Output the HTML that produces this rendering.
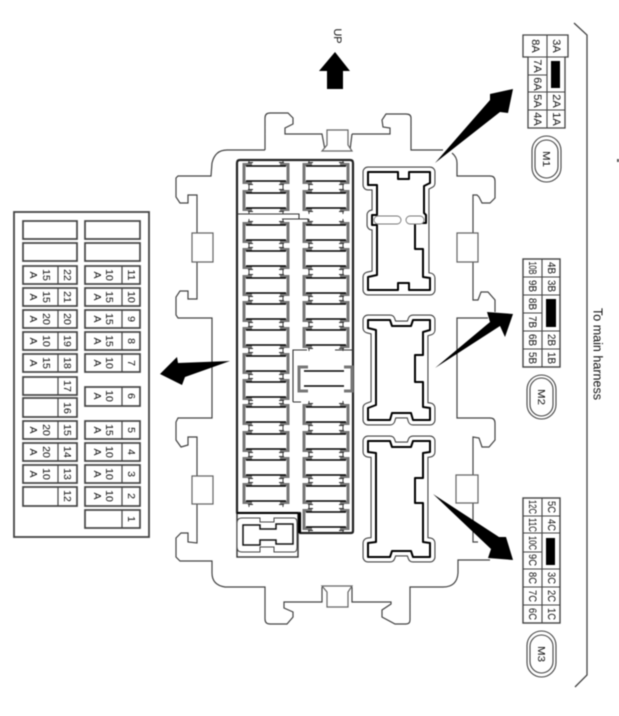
<!DOCTYPE html>
<html>
<head>
<meta charset="utf-8">
<style>
html,body{margin:0;padding:0;background:#fff;width:619px;height:716px;overflow:hidden}
svg{display:block;filter:blur(0.45px)}
text{font-family:"Liberation Sans",Arial,sans-serif;fill:#111;text-anchor:middle;dominant-baseline:central}
.l{font-size:10.5px}
.t{font-size:11px}
.c{fill:#fff;stroke:#444;stroke-width:1.7}
</style>
</head>
<body>
<svg width="619" height="716" viewBox="0 0 619 716" xmlns="http://www.w3.org/2000/svg">
<defs>
<symbol id="f" width="50" height="26" viewBox="0 -3 50 26" overflow="visible">
<path d="M10,1.5H2V19.5H10M38,1.5H46V19.5H38" fill="none" stroke="#777" stroke-width="3"/>
<rect x="4" y="3" width="40" height="15" fill="#fff"/>
<path d="M4,3H44M4,18H44" stroke="#000" stroke-width="1.4" fill="none"/>
<path d="M6,-0.5H11M6,21.5H11M37,-0.5H42M37,21.5H42M7,-3V0M7,21V24M41,-3V0M41,21V24" fill="none" stroke="#333" stroke-width="0.9"/>
</symbol>
</defs>

<!-- left legend panel -->
<rect x="14" y="212" width="135" height="325" fill="#fff" stroke="#444" stroke-width="1.8"/>
<g class="c">
<rect class="c" x="23" y="221" width="54" height="18"/><rect class="c" x="85" y="221" width="55" height="18"/>
<rect class="c" x="23" y="243" width="54" height="18"/><rect class="c" x="85" y="243" width="55" height="18"/>
<rect class="c" x="23" y="266" width="54" height="18"/><rect class="c" x="85" y="266" width="55" height="18"/>
<rect class="c" x="23" y="288" width="54" height="18"/><rect class="c" x="85" y="288" width="55" height="18"/>
<rect class="c" x="23" y="310" width="54" height="18"/><rect class="c" x="85" y="310" width="55" height="18"/>
<rect class="c" x="23" y="332" width="54" height="18"/><rect class="c" x="85" y="332" width="55" height="18"/>
<rect class="c" x="23" y="354" width="54" height="18"/><rect class="c" x="85" y="354" width="55" height="18"/>
<rect class="c" x="23" y="377" width="54" height="18"/><rect class="c" x="85" y="387" width="55" height="19"/>
<rect class="c" x="23" y="398" width="54" height="19"/>
<rect class="c" x="23" y="421" width="54" height="18"/><rect class="c" x="85" y="421" width="55" height="18"/>
<rect class="c" x="23" y="443" width="54" height="18"/><rect class="c" x="85" y="443" width="55" height="18"/>
<rect class="c" x="23" y="465" width="54" height="18"/><rect class="c" x="85" y="465" width="55" height="18"/>
<rect class="c" x="23" y="487" width="54" height="19"/><rect class="c" x="85" y="487" width="55" height="19"/>
<rect class="c" x="85" y="510" width="55" height="18"/>
</g>
<path d="M58,266V284M58,288V306M58,310V328M58,332V350M58,354V372M58,377V395M58,398V417M58,421V439M58,443V461M58,465V483M58,487V506M122,266V284M122,288V306M122,310V328M122,332V350M122,354V372M122,387V406M122,421V439M122,443V461M122,465V483M122,487V506M122,510V528" stroke="#444" stroke-width="1.2" fill="none"/>

<g class="l">
<text transform="rotate(90 67 275)" x="67" y="275">22</text>
<text transform="rotate(90 67 297)" x="67" y="297">21</text>
<text transform="rotate(90 67 319)" x="67" y="319">20</text>
<text transform="rotate(90 67 341)" x="67" y="341">19</text>
<text transform="rotate(90 67 363)" x="67" y="363">18</text>
<text transform="rotate(90 67 386)" x="67" y="386">17</text>
<text transform="rotate(90 67 408)" x="67" y="408">16</text>
<text transform="rotate(90 67 430)" x="67" y="430">15</text>
<text transform="rotate(90 67 452)" x="67" y="452">14</text>
<text transform="rotate(90 67 474)" x="67" y="474">13</text>
<text transform="rotate(90 67 496)" x="67" y="496">12</text>
<text transform="rotate(90 131 275)" x="131" y="275">11</text>
<text transform="rotate(90 131 297)" x="131" y="297">10</text>
<text transform="rotate(90 131 319)" x="131" y="319">9</text>
<text transform="rotate(90 131 341)" x="131" y="341">8</text>
<text transform="rotate(90 131 363)" x="131" y="363">7</text>
<text transform="rotate(90 131 396)" x="131" y="396">6</text>
<text transform="rotate(90 131 430)" x="131" y="430">5</text>
<text transform="rotate(90 131 452)" x="131" y="452">4</text>
<text transform="rotate(90 131 474)" x="131" y="474">3</text>
<text transform="rotate(90 131 496)" x="131" y="496">2</text>
<text transform="rotate(90 131 519)" x="131" y="519">1</text>

<text transform="rotate(90 46 275)" x="46" y="275">15</text><text transform="rotate(90 33 275)" x="33" y="275">A</text>
<text transform="rotate(90 46 297)" x="46" y="297">15</text><text transform="rotate(90 33 297)" x="33" y="297">A</text>
<text transform="rotate(90 46 319)" x="46" y="319">20</text><text transform="rotate(90 33 319)" x="33" y="319">A</text>
<text transform="rotate(90 46 341)" x="46" y="341">10</text><text transform="rotate(90 33 341)" x="33" y="341">A</text>
<text transform="rotate(90 46 363)" x="46" y="363">15</text><text transform="rotate(90 33 363)" x="33" y="363">A</text>
<text transform="rotate(90 46 430)" x="46" y="430">20</text><text transform="rotate(90 33 430)" x="33" y="430">A</text>
<text transform="rotate(90 46 452)" x="46" y="452">20</text><text transform="rotate(90 33 452)" x="33" y="452">A</text>
<text transform="rotate(90 46 474)" x="46" y="474">10</text><text transform="rotate(90 33 474)" x="33" y="474">A</text>

<text transform="rotate(90 109 275)" x="109" y="275">10</text><text transform="rotate(90 97 275)" x="97" y="275">A</text>
<text transform="rotate(90 109 297)" x="109" y="297">15</text><text transform="rotate(90 97 297)" x="97" y="297">A</text>
<text transform="rotate(90 109 319)" x="109" y="319">15</text><text transform="rotate(90 97 319)" x="97" y="319">A</text>
<text transform="rotate(90 109 341)" x="109" y="341">15</text><text transform="rotate(90 97 341)" x="97" y="341">A</text>
<text transform="rotate(90 109 363)" x="109" y="363">10</text><text transform="rotate(90 97 363)" x="97" y="363">A</text>
<text transform="rotate(90 109 396)" x="109" y="396">10</text><text transform="rotate(90 97 396)" x="97" y="396">A</text>
<text transform="rotate(90 109 430)" x="109" y="430">15</text><text transform="rotate(90 97 430)" x="97" y="430">A</text>
<text transform="rotate(90 109 452)" x="109" y="452">10</text><text transform="rotate(90 97 452)" x="97" y="452">A</text>
<text transform="rotate(90 109 474)" x="109" y="474">10</text><text transform="rotate(90 97 474)" x="97" y="474">A</text>
<text transform="rotate(90 109 496)" x="109" y="496">10</text><text transform="rotate(90 97 496)" x="97" y="496">A</text>
</g>

<!-- housing outline -->
<path fill="none" stroke="#444" stroke-width="1.2" d="M265,150V118Q265,113 270,113H288L293,118V124L285,128V134H322L325,150M352,134L350,150M352,134H390V128L383,127L382,120L386,114H406Q411,114 411,118V150H443M452,153Q457,157 457,163V176H490Q495,176 495,181V198L490,203H482L479,197L477,195H473V233M473,262V300H478L481,292H488L495,300V312M488,318H457V418H490Q495,418 495,423V440L489,447H482L479,438L473,437V475M473,503V542H478M490,560H458V573Q457,587 443,587H410V620Q410,624 406,624H395L382,617V610L391,604V602H352V587M322,587V602H284V608L293,612V617L287,624H270Q265,624 265,619V587H225Q212,585 212,573V561H180L176,557V538L181,533H188V542L197,543V504M197,476V437H188V445L181,447L176,440V422L178,418H212V318H178L176,315V297L180,291H188V299H197V262M197,233V195H188V203H180L176,197V178L178,176H211L212,163Q215,150 227,150H265"/>
<!-- side / top / bottom latches -->
<path fill="#fff" stroke="#666" stroke-width="1.2" d="M213,233H192V262H213ZM213,476H192V504H213ZM457,233H478V262H457ZM456,475H478V503H456Z"/>
<path fill="#fff" stroke="#666" stroke-width="1.2" d="M322,151H352L348,145V130H327V145Z"/>
<path fill="#fff" stroke="#666" stroke-width="1.2" d="M322,586H352L348,592V607H327V592Z"/>

<!-- fuse block -->
<path fill="#fff" stroke="#222" stroke-width="2.2" stroke-linejoin="round" d="M237,163Q237,160 240,160H350Q353,160 353,163V531Q353,533 351,533H300V513H237Z"/>
<use href="#f" x="242" y="160"/><use href="#f" x="302" y="160"/>
<use href="#f" x="242" y="187"/><use href="#f" x="302" y="187"/>
<use href="#f" x="242" y="219"/><use href="#f" x="302" y="219"/>
<use href="#f" x="242" y="245"/><use href="#f" x="302" y="245"/>
<use href="#f" x="242" y="272"/><use href="#f" x="302" y="272"/>
<use href="#f" x="242" y="298"/><use href="#f" x="302" y="298"/>
<use href="#f" x="242" y="324"/><use href="#f" x="302" y="324"/>
<use href="#f" x="242" y="350"/>
<use href="#f" x="242" y="376"/>
<use href="#f" x="242" y="401"/><use href="#f" x="302" y="401"/>
<use href="#f" x="242" y="428"/><use href="#f" x="302" y="428"/>
<use href="#f" x="242" y="454"/><use href="#f" x="302" y="454"/>
<use href="#f" x="242" y="480"/><use href="#f" x="302" y="480"/>
<use href="#f" x="302" y="506"/>
<!-- inner block lines -->
<path fill="none" stroke="#333" stroke-width="1.1" d="M237,214H299V219M282,219H308V222M293,402V350H307M335,350H353M293,402H301"/>
<!-- special fuse -->
<path d="M308,367H299V391H308M344,367H352V391H344" fill="none" stroke="#777" stroke-width="3"/>
<rect x="304" y="371" width="44" height="15" fill="#fff"/>
<path d="M304,371H344M304,386H344" stroke="#000" stroke-width="1.4"/>
<!-- relay socket -->
<rect x="237" y="513" width="61" height="44" fill="#fff" stroke="#333" stroke-width="1.4"/>
<path d="M237,513H298" stroke="#000" stroke-width="2"/>
<path fill="#fff" stroke="#444" stroke-width="1" d="M242,518H260V522H274V518H294Q297,518 297,523V547Q297,552 294,552H274V547H260V552H242Q237,552 237,547V523Q237,518 242,518Z"/>
<path fill="none" stroke="#111" stroke-width="1.5" d="M243,525H260V529H276V524H293V544H276V540H260V545H243Z"/>
<path d="M298,513H301V533H298Z" fill="#000"/>

<!-- connectors -->
<g stroke-linejoin="round">
<path fill="#fff" stroke="#444" stroke-width="11" d="M368,172H430V183L424,186V277L430,278V290H368V277L377,275V225H372V215H377V185H368Z"/>
<path fill="#fff" stroke="#fff" stroke-width="8.8" d="M368,172H430V183L424,186V277L430,278V290H368V277L377,275V225H372V215H377V185H368Z"/>
<path fill="#fff" stroke="#000" stroke-width="2" d="M368,172H398V179H409V172H430V183L424,186V213L426,215V223H415V249H423V277L430,278V290H409V283H398V290H368V277L377,275V225H372V215H377V185H368Z"/>

<path fill="#fff" stroke="#444" stroke-width="11" d="M368,320H390L392,326H411L413,320H430V330L423,332V407L430,408V420H413L411,413H392L390,420H368V408L376,405V330L368,328Z"/>
<path fill="#fff" stroke="#fff" stroke-width="8.8" d="M368,320H390L392,326H411L413,320H430V330L423,332V407L430,408V420H413L411,413H392L390,420H368V408L376,405V330L368,328Z"/>
<path fill="#fff" stroke="#000" stroke-width="2" d="M368,320H390L392,326H411L413,320H430V330L423,332V355H415V382H423V407L430,408V420H413L411,413H392L390,420H368V408L376,405V330L368,328Z"/>

<path fill="#fff" stroke="#444" stroke-width="11" d="M368,441H390L392,447H411L413,441H430V452L423,453V542L430,543V557H413L411,551H392L390,557H368V543L376,542V453L368,452Z"/>
<path fill="#fff" stroke="#fff" stroke-width="8.8" d="M368,441H390L392,447H411L413,441H430V452L423,453V542L430,543V557H413L411,551H392L390,557H368V543L376,542V453L368,452Z"/>
<path fill="#fff" stroke="#000" stroke-width="2" d="M368,441H390L392,447H411L413,441H430V452L423,453V478H415V503H423V542L430,543V557H413L411,551H392L390,557H368V543L376,542V453L368,452Z"/>
</g>
<rect x="374" y="216" width="27" height="8" rx="4" fill="#fff" stroke="#777" stroke-width="0.9"/>
<rect x="406" y="216" width="18" height="8" rx="4" fill="#fff" stroke="#777" stroke-width="0.9"/>

<!-- arrows -->
<g fill="#000">
<polygon points="435,163 490,100 490,94 513,89 508,113 500,112"/>
<polygon points="435,368 490,322 487,312 513,314 505,337 500,326"/>
<polygon points="433,494 499,537 506,537 513,560 488,558 491,549"/>
<polygon points="230,361 178,363 177,357 160,374 182,385 185,377"/>
<polygon points="335,52 350,71 343,71 343,89 327,89 327,71 319,71"/>
</g>
<text transform="rotate(90 337 36)" x="337" y="36" style="font-size:11px">UP</text>

<!-- M1 table -->
<path fill="#fff" stroke="#444" stroke-width="1.3" d="M523,35H568V57H565V128H528V57H523Z"/>
<path fill="none" stroke="#444" stroke-width="1.1" d="M547,35V128M523,57H568M528,75H547M528,92H565M528,110H565"/>
<rect x="551" y="61" width="9" height="27" fill="#000"/>
<g class="t">
<text transform="rotate(90 556 46)" x="556" y="46">3A</text>
<text transform="rotate(90 535 46)" x="535" y="46">8A</text>
<text transform="rotate(90 537 66)" x="537" y="66">7A</text>
<text transform="rotate(90 537 84)" x="537" y="84">6A</text>
<text transform="rotate(90 537 101)" x="537" y="101">5A</text>
<text transform="rotate(90 537 119)" x="537" y="119">4A</text>
<text transform="rotate(90 556 101)" x="556" y="101">2A</text>
<text transform="rotate(90 556 119)" x="556" y="119">1A</text>
</g>
<rect x="532" y="136" width="29" height="46" rx="14.5" fill="#fff" stroke="#444" stroke-width="1.1"/>
<rect x="535" y="140" width="23" height="38" rx="11.5" fill="#fff" stroke="#444" stroke-width="1.1"/>
<text transform="rotate(90 546 159)" x="546" y="159" class="l" textLength="16" lengthAdjust="spacingAndGlyphs">M1</text>

<!-- M2 table -->
<rect x="523" y="259" width="37" height="108" fill="#fff" stroke="#444" stroke-width="1.4"/>
<path fill="none" stroke="#444" stroke-width="1.1" d="M542,259V367M523,277H560M523,295H560M523,313H542M523,331H560M523,349H560"/>
<rect x="546" y="299" width="10" height="28" fill="#000"/>
<g class="t">
<text transform="rotate(90 532 268)" x="532" y="268" textLength="13" lengthAdjust="spacingAndGlyphs">10B</text>
<text transform="rotate(90 532 286)" x="532" y="286" textLength="12" lengthAdjust="spacingAndGlyphs">9B</text>
<text transform="rotate(90 532 304)" x="532" y="304" textLength="12" lengthAdjust="spacingAndGlyphs">8B</text>
<text transform="rotate(90 532 322)" x="532" y="322" textLength="12" lengthAdjust="spacingAndGlyphs">7B</text>
<text transform="rotate(90 532 340)" x="532" y="340" textLength="12" lengthAdjust="spacingAndGlyphs">6B</text>
<text transform="rotate(90 532 358)" x="532" y="358" textLength="12" lengthAdjust="spacingAndGlyphs">5B</text>
<text transform="rotate(90 551 268)" x="551" y="268" textLength="12" lengthAdjust="spacingAndGlyphs">4B</text>
<text transform="rotate(90 551 286)" x="551" y="286" textLength="12" lengthAdjust="spacingAndGlyphs">3B</text>
<text transform="rotate(90 551 340)" x="551" y="340" textLength="12" lengthAdjust="spacingAndGlyphs">2B</text>
<text transform="rotate(90 551 358)" x="551" y="358" textLength="12" lengthAdjust="spacingAndGlyphs">1B</text>
</g>
<rect x="527" y="375" width="29" height="44" rx="14.5" fill="#fff" stroke="#444" stroke-width="1.1"/>
<rect x="530" y="378" width="23" height="38" rx="11.5" fill="#fff" stroke="#444" stroke-width="1.1"/>
<text transform="rotate(90 541 397)" x="541" y="397" class="l" textLength="16" lengthAdjust="spacingAndGlyphs">M2</text>

<!-- M3 table -->
<rect x="523" y="498" width="37" height="125" fill="#fff" stroke="#444" stroke-width="1.4"/>
<path fill="none" stroke="#444" stroke-width="1.1" d="M542,498V623M523,516H560M523,533H560M523,552H542M523,569H560M523,587H560M523,605H560"/>
<rect x="546" y="538" width="9" height="27" fill="#000"/>
<g class="t">
<text transform="rotate(90 532 507)" x="532" y="507" textLength="14" lengthAdjust="spacingAndGlyphs">12C</text>
<text transform="rotate(90 532 525)" x="532" y="525" textLength="14" lengthAdjust="spacingAndGlyphs">11C</text>
<text transform="rotate(90 532 543)" x="532" y="543" textLength="14" lengthAdjust="spacingAndGlyphs">10C</text>
<text transform="rotate(90 532 560)" x="532" y="560" textLength="12" lengthAdjust="spacingAndGlyphs">9C</text>
<text transform="rotate(90 532 578)" x="532" y="578" textLength="12" lengthAdjust="spacingAndGlyphs">8C</text>
<text transform="rotate(90 532 596)" x="532" y="596" textLength="12" lengthAdjust="spacingAndGlyphs">7C</text>
<text transform="rotate(90 532 614)" x="532" y="614" textLength="12" lengthAdjust="spacingAndGlyphs">6C</text>
<text transform="rotate(90 551 507)" x="551" y="507" textLength="12" lengthAdjust="spacingAndGlyphs">5C</text>
<text transform="rotate(90 551 525)" x="551" y="525" textLength="12" lengthAdjust="spacingAndGlyphs">4C</text>
<text transform="rotate(90 551 578)" x="551" y="578" textLength="12" lengthAdjust="spacingAndGlyphs">3C</text>
<text transform="rotate(90 551 596)" x="551" y="596" textLength="12" lengthAdjust="spacingAndGlyphs">2C</text>
<text transform="rotate(90 551 614)" x="551" y="614" textLength="12" lengthAdjust="spacingAndGlyphs">1C</text>
</g>
<rect x="527" y="631" width="29" height="46" rx="14.5" fill="#fff" stroke="#444" stroke-width="1.1"/>
<rect x="530" y="635" width="23" height="38" rx="11.5" fill="#fff" stroke="#444" stroke-width="1.1"/>
<text transform="rotate(90 541 654)" x="541" y="654" class="l" textLength="16" lengthAdjust="spacingAndGlyphs">M3</text>

<!-- harness bracket -->
<path d="M574,23L587,35V675L575,687" fill="none" stroke="#444" stroke-width="1.3"/>
<text transform="rotate(90 598 354)" x="598" y="354" style="font-size:13px" textLength="92" lengthAdjust="spacingAndGlyphs">To main harness</text>
<rect x="617" y="159" width="2" height="3" fill="#555"/>
</svg>
</body>
</html>
